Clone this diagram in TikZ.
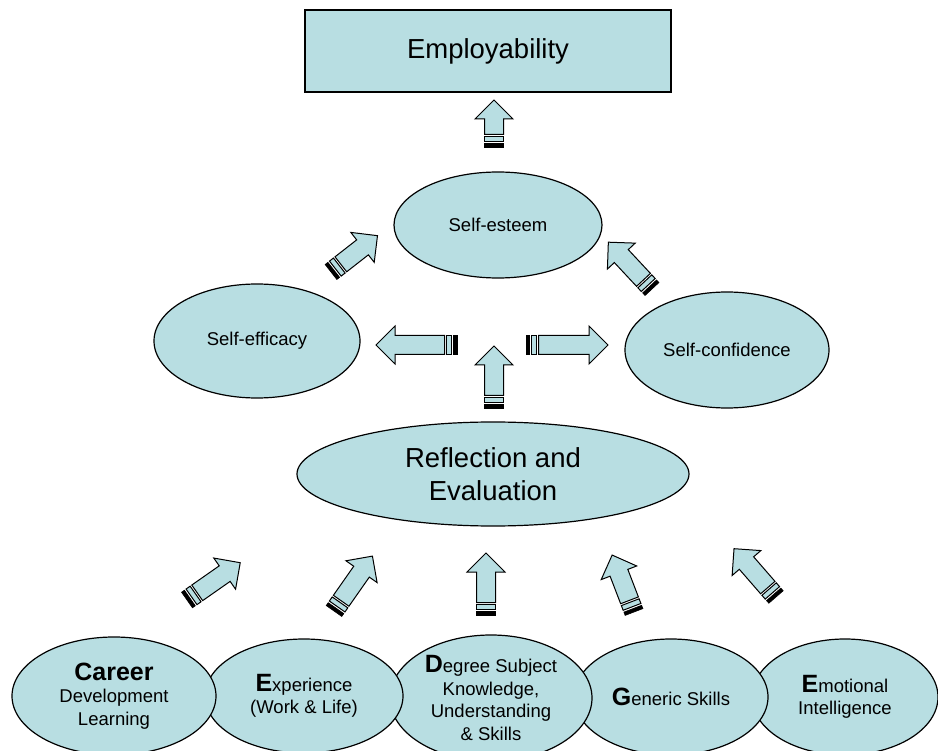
\documentclass[tikz,border=0pt]{standalone}
\usepackage{fontspec}
\setmainfont{Liberation Sans}
\usetikzlibrary{shapes.geometric}
\definecolor{fillc}{RGB}{184,222,226}
\tikzset{
  ell/.style={ellipse, draw=black, fill=fillc, line width=1.2pt, inner sep=0pt, align=center,
    font=\fontsize{18.5}{22.5}\selectfont},
  bigell/.style={ell, font=\fontsize{27.5}{33}\selectfont},
  boxnode/.style={rectangle, draw=black, fill=fillc, line width=1.2pt, inner sep=0pt,
    font=\fontsize{27.5}{33}\selectfont},
  arrbody/.style={fill=fillc, draw=black, line width=1pt, line join=miter},
  arrstripe/.style={fill=black, draw=black, line width=0.6pt},
  arrbox/.style={fill=fillc, draw=black, line width=1pt},
}
\newcommand\initial[1]{{\fontsize{25}{22.5}\selectfont\bfseries #1}}
% tail x, tail y, angle, length
\newcommand\striparrow[4]{%
  \begin{scope}[shift={(#1,#2)}, rotate=#3]
    \path[arrstripe] (0,-9.5) rectangle (3.5,9.5);
    \path[arrbox] (5.5,-9.5) rectangle (10.5,9.5);
    \path[arrbody] (12.5,-9.5) -- (#4-19,-9.5) -- (#4-19,-19) -- (#4,0) -- (#4-19,19)
      -- (#4-19,9.5) -- (12.5,9.5) -- cycle;
  \end{scope}}
\begin{document}
\begin{tikzpicture}[x=1pt, y=-1pt]
\useasboundingbox (0,0) rectangle (938,751);
\clip (0,0) rectangle (938,751);

% top box
\node[boxnode, minimum width=366pt, minimum height=82pt] (emp) at (488,51) {Employability};

% middle ellipses
\node[ell, minimum width=208pt, minimum height=106pt] (esteem) at (498,225) {Self-esteem};
\node[ell, minimum width=206pt, minimum height=114pt] (efficacy) at (257,341) {Self-efficacy};
\node[ell, minimum width=204pt, minimum height=116pt] (confidence) at (727,350) {Self-confidence};
\node[bigell, minimum width=392pt, minimum height=104pt] (refl) at (493,474) {Reflection and\\Evaluation};

% bottom ellipses (right to left so left ones lie on top)
\node[ell, minimum width=186pt, minimum height=116pt] (emo) at (845,697) {\initial{E}motional\\Intelligence};
\node[ell, minimum width=194pt, minimum height=116pt] (gen) at (671,697) {\initial{G}eneric Skills};
\node[ell, minimum width=202pt, minimum height=126pt] (deg) at (491,698) {\initial{D}egree Subject\\Knowledge,\\Understanding\\\& Skills};
\node[ell, minimum width=198pt, minimum height=114pt] (exp) at (304,696) {\initial{E}xperience\\(Work \& Life)};
\node[ell, minimum width=204pt, minimum height=118pt] (car) at (114,696) {\initial{Career}\\Development\\Learning};

% striped block arrows
\striparrow{494}{147}{90}{47}
\striparrow{331}{272}{38}{59}
\striparrow{652}{289}{133}{64}
\striparrow{457}{345}{180}{81}
\striparrow{526}{345}{0}{82}
\striparrow{494}{408}{90}{62}
\striparrow{187}{600}{35}{65}
\striparrow{334}{611}{55}{67}
\striparrow{486}{615}{90}{62}
\striparrow{634}{612}{111}{61}
\striparrow{776}{597}{131}{64}
\end{tikzpicture}
\end{document}
